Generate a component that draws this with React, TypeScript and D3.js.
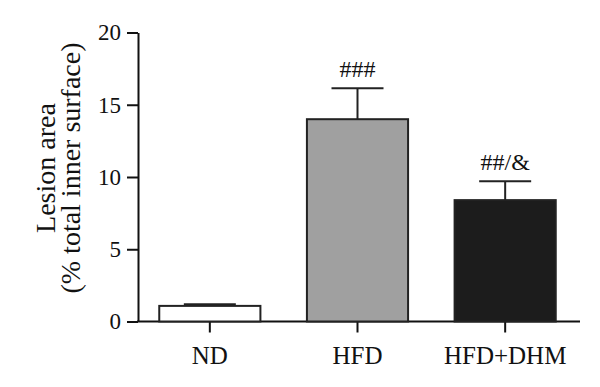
import React, { useEffect, useRef } from 'react';
import * as d3 from 'd3';

const categories = ['ND', 'HFD', 'HFD+DHM'];
const means = [1.08, 14.0, 8.4];
const errors = [0.12, 2.15, 1.3];
const marks = ['', '###', '##/&'];
const barFills = ['#ffffff', '#a0a0a0', '#1c1c1c'];
const yTicks = [0, 5, 10, 15, 20];

const App = () => {
  const ref = useRef<SVGSVGElement>(null);

  useEffect(() => {
    const svg = d3.select(ref.current);
    svg.selectAll('*').remove();

    const font = '"Liberation Serif", "Times New Roman", serif';
    const x = d3.scaleBand().domain(categories).range([136, 579]).padding(0);
    const y = d3.scaleLinear().domain([0, 20]).range([321.5, 32.5]);
    const barW = x.bandwidth() * 0.685;

    // y axis
    const yAxis = svg.append('g')
      .attr('transform', 'translate(138,0)')
      .call(d3.axisLeft(y).tickValues(yTicks).tickSize(11).tickSizeOuter(0).tickPadding(6));
    yAxis.selectAll('text').attr('font-size', 23).attr('font-family', font).attr('fill', '#111');
    yAxis.selectAll('line, path').attr('stroke', '#111').attr('stroke-width', 2);

    // x axis
    const xAxis = svg.append('g')
      .attr('transform', `translate(0,${y(0)})`)
      .call(d3.axisBottom(x).tickSize(11).tickSizeOuter(0).tickPadding(8));
    xAxis.select('path').attr('d', `M137,0H580`);
    xAxis.selectAll('text').attr('font-size', 25).attr('font-family', font).attr('fill', '#111').attr('dy', '0.95em');
    xAxis.selectAll('line, path').attr('stroke', '#111').attr('stroke-width', 2);

    const data = categories.map((c, i) => ({ c, m: means[i], e: errors[i], mark: marks[i], fill: barFills[i] }));

    // error bars
    const eb = svg.append('g');
    data.forEach(d => {
      const cx = (x(d.c) as number) + x.bandwidth() / 2;
      eb.append('line').attr('x1', cx).attr('x2', cx).attr('y1', y(d.m)).attr('y2', y(d.m + d.e))
        .attr('stroke', '#222').attr('stroke-width', 2);
      eb.append('line').attr('x1', cx - 26).attr('x2', cx + 26).attr('y1', y(d.m + d.e)).attr('y2', y(d.m + d.e))
        .attr('stroke', '#222').attr('stroke-width', 2);
      if (d.mark) {
        svg.append('text').attr('x', cx).attr('y', y(d.m + d.e) - 11)
          .attr('text-anchor', 'middle').attr('font-size', 24).attr('font-family', font).attr('fill', '#111')
          .text(d.mark);
      }
    });

    // bars
    svg.append('g').selectAll('rect')
      .data(data)
      .enter()
      .append('rect')
      .attr('x', d => (x(d.c) as number) + (x.bandwidth() - barW) / 2)
      .attr('y', d => y(d.m))
      .attr('width', barW)
      .attr('height', d => y(0) - y(d.m))
      .attr('fill', d => d.fill)
      .attr('stroke', '#222')
      .attr('stroke-width', 2);

    // y label
    const lab = svg.append('text')
      .attr('transform', 'translate(0,168) rotate(-90)')
      .attr('text-anchor', 'middle').attr('font-size', 28).attr('font-family', font).attr('fill', '#111');
    lab.append('tspan').attr('x', 0).attr('y', 55).text('Lesion area');
    lab.append('tspan').attr('x', 0).attr('y', 80).text('(% total inner surface)');
  }, []);

  return (
    <svg ref={ref} width={600} height={387}
      style={{ position: 'absolute', left: 0, top: 0, background: '#fff' }} />
  );
};

export default App;
